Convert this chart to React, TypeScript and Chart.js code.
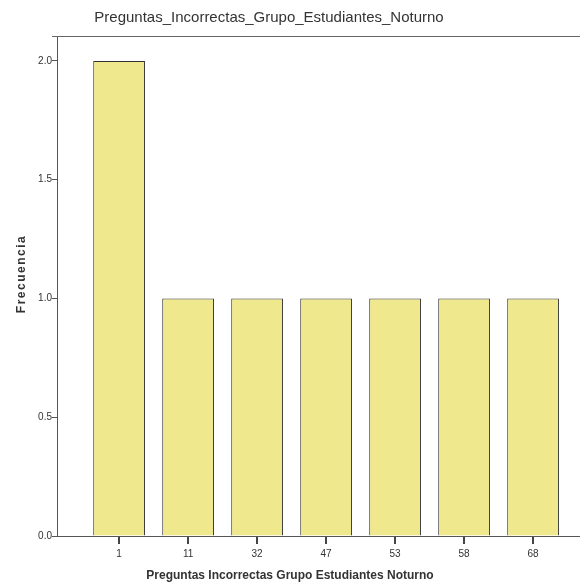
import React, { useEffect, useRef } from "react";
import { Chart, registerables } from "chart.js";

Chart.register(...registerables);

const categories: string[] = ["1", "11", "32", "47", "53", "58", "68"];
const frequencies: number[] = [2, 1, 1, 1, 1, 1, 1];
const yTicks: number[] = [0, 0.5, 1.0, 1.5, 2.0];

const chartTitle = "Preguntas_Incorrectas_Grupo_Estudiantes_Noturno";
const xTitle = "Preguntas Incorrectas Grupo Estudiantes Noturno";
const yTitle = "Frecuencia";

const decorations = {
  id: "decorations",
  afterDraw(chart: any) {
    const { ctx, chartArea } = chart;
    const xScale = chart.scales.x;
    ctx.save();
    ctx.strokeStyle = "#666";
    ctx.lineWidth = 1;
    ctx.beginPath();
    ctx.moveTo(chartArea.left - 5, chartArea.top + 0.5);
    ctx.lineTo(chartArea.right, chartArea.top + 0.5);
    ctx.stroke();
    ctx.fillStyle = "#444";
    for (let i = 0; i < categories.length; i++) {
      const px = Math.round(xScale.getPixelForValue(i));
      ctx.fillRect(px - 1, chartArea.bottom + 1, 2, 7);
    }
    ctx.fillStyle = "#333";
    ctx.textAlign = "center";
    ctx.textBaseline = "middle";
    ctx.font = "normal 15px 'Liberation Sans', sans-serif";
    ctx.fillText(chartTitle, 269, 18);
    ctx.font = "bold 12px 'Liberation Sans', sans-serif";
    ctx.fillText(xTitle, 290, 576);
    ctx.translate(22, 274);
    ctx.rotate(-Math.PI / 2);
    (ctx as any).letterSpacing = "1.5px";
    ctx.font = "bold 12px 'Liberation Sans', sans-serif";
    ctx.fillText(yTitle, 0, 0);
    ctx.restore();
  },
};

export default function App() {
  const ref = useRef<HTMLCanvasElement>(null);
  useEffect(() => {
    document.body.style.margin = "0";
    document.body.style.background = "#fff";
    const chart = new Chart(ref.current!, {
      type: "bar",
      data: {
        datasets: [
          {
            data: categories.map((_, i) => ({ x: i, y: frequencies[i] })),
            backgroundColor: "rgb(240,232,140)",
            borderColor: "#333",
            borderWidth: 1,
            barPercentage: 0.75,
            categoryPercentage: 1,
          },
        ],
      },
      options: {
        animation: false,
        responsive: false,
        layout: { padding: { left: 0, right: 0, top: 36, bottom: 0 } },
        plugins: {
          legend: { display: false },
          tooltip: { enabled: false },
          title: { display: false },
        },
        scales: {
          x: {
            type: "linear",
            offset: false,
            min: -0.9,
            max: 6.68,
            afterBuildTicks: (scale: any) => {
              scale.ticks = categories.map((_, i) => ({ value: i }));
            },
            afterFit: (scale: any) => {
              scale.height = 52;
            },
            grid: { display: false, drawTicks: false },
            border: { display: true, color: "#555" },
            ticks: {
              autoSkip: false,
              maxRotation: 0,
              padding: 12,
              color: "#333",
              font: { family: "'Liberation Sans', sans-serif", size: 10 },
              callback: (v: any) => categories[v] ?? "",
            },
          },
          y: {
            min: 0,
            max: 2.105,
            afterBuildTicks: (scale: any) => {
              scale.ticks = yTicks.map((v) => ({ value: v }));
            },
            afterFit: (scale: any) => {
              scale.width = 57;
            },
            grid: { display: true, drawOnChartArea: false, drawTicks: true, tickLength: 5, color: "#555" },
            border: { display: true, color: "#555" },
            ticks: {
              padding: 0,
              color: "#333",
              font: { family: "'Liberation Sans', sans-serif", size: 10 },
              callback: (v: any) => Number(v).toFixed(1),
            },
          },
        },
      },
      plugins: [decorations],
    });
    return () => chart.destroy();
  }, []);
  return <canvas ref={ref} width={580} height={588} style={{ display: "block" }} />;
}
